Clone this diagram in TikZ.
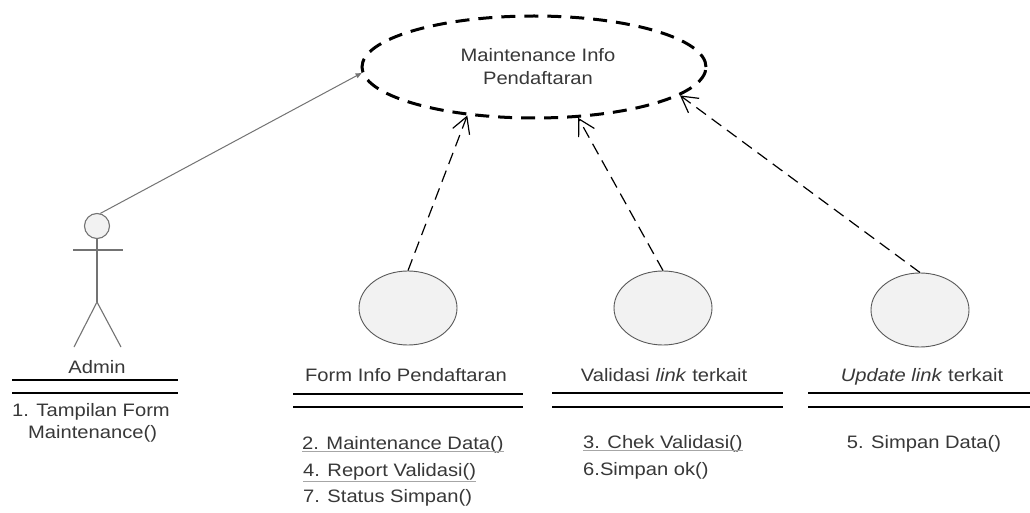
\documentclass[tikz,border=0pt]{standalone}
\usepackage{fontspec}
\setmainfont{Liberation Sans}[FakeStretch=1.12]
\usetikzlibrary{arrows.meta,shapes.geometric}
\begin{document}
\begin{tikzpicture}[x=1pt,y=-1pt,
  txt/.style={inner sep=0pt, text=black!78, font=\fontsize{18}{20}\selectfont},
  obj/.style={ellipse, draw=black!65, line width=0.9pt, fill=black!5, minimum width=98pt, minimum height=74pt, inner sep=0pt},
  dep/.style={draw, line width=1.2pt, dash pattern=on 12pt off 7pt, -{Straight Barb[length=16pt,width=18pt,line width=1.2pt]}},
  sepline/.style={line width=1.4pt},
  actorline/.style={draw=black!55, line width=1.1pt},
  uline/.style={draw=black!35, line width=0.6pt}
]
\useasboundingbox[fill=white] (0,0) rectangle (1030,513);

% main use case
\node[ellipse, draw, line width=3pt, dash pattern=on 14pt off 9pt, minimum width=344pt, minimum height=102pt, inner sep=0pt] (main) at (534,67) {};
\node[txt, anchor=base] (mt1) at (538,62) {Maintenance Info};
\node[txt, anchor=base] (mt2) at (538,85) {Pendaftaran};

% actor
\node[circle, draw=black!55, line width=1.1pt, fill=black!5, minimum size=25pt, inner sep=0pt] (head) at (97,226) {};
\coordinate (hip) at (97,302);
\draw[actorline] (head.south) -- (hip);
\draw[actorline] (73,250) -- (123,250);
\draw[actorline] (74,347) -- (hip) -- (121,347);
\node[txt, anchor=base] (admin) at (97,373) {Admin};
\draw[sepline] (12,380) -- (178,380) (12,393) -- (178,393);
\node[txt, anchor=base west] (a1) at (12,416) {1. Tampilan Form};
\node[txt, anchor=base west] (a2) at (28,438) {Maintenance()};

\draw[draw=black!55, line width=1pt, -{Triangle[length=6pt,width=5pt]}] (head.75) -- (main.182);

% Form Info Pendaftaran
\node[obj] (form) at (408,308) {};
\node[txt, anchor=base] (formlbl) at (406,381) {Form Info Pendaftaran};
\draw[sepline] (293,394) -- (523,394) (293,407) -- (523,407);
\node[txt, anchor=base west] (f2) at (302,449) {2. Maintenance Data()};
\node[txt, anchor=base west] (f4) at (303,476) {4. Report Validasi()};
\node[txt, anchor=base west] (f7) at (303,502) {7. Status Simpan()};
\draw[uline] ([yshift=-2pt]f2.base west) -- ([yshift=-2pt]f2.base east);
\draw[uline] ([yshift=-1pt]f4.south west) -- ([yshift=-1pt]f4.south east);

% Validasi link terkait
\node[obj] (valid) at (663,308) {};
\node[txt, anchor=base] (validlbl) at (664,381) {Validasi \textit{link} terkait};
\draw[sepline] (552,393) -- (783,393) (552,407) -- (783,407);
\node[txt, anchor=base west] (v3) at (583,448) {3. Chek Validasi()};
\node[txt, anchor=base west] (v6) at (583,475) {6.Simpan ok()};
\draw[uline] ([yshift=-2pt]v3.base west) -- ([yshift=-2pt]v3.base east);

% Update link terkait
\node[obj] (update) at (920,310) {};
\node[txt, anchor=base] (updlbl) at (922,381) {\textit{Update link} terkait};
\draw[sepline] (808,393) -- (1030,393) (808,407) -- (1030,407);
\node[txt, anchor=base] (u5) at (924,448) {5. Simpan Data()};

% dependencies
\draw[dep] (form.north) -- (main.-144);
\draw[dep] (valid.north) -- (main.-49);
\draw[dep] (update.north) -- (main.-11);
\end{tikzpicture}
\end{document}
